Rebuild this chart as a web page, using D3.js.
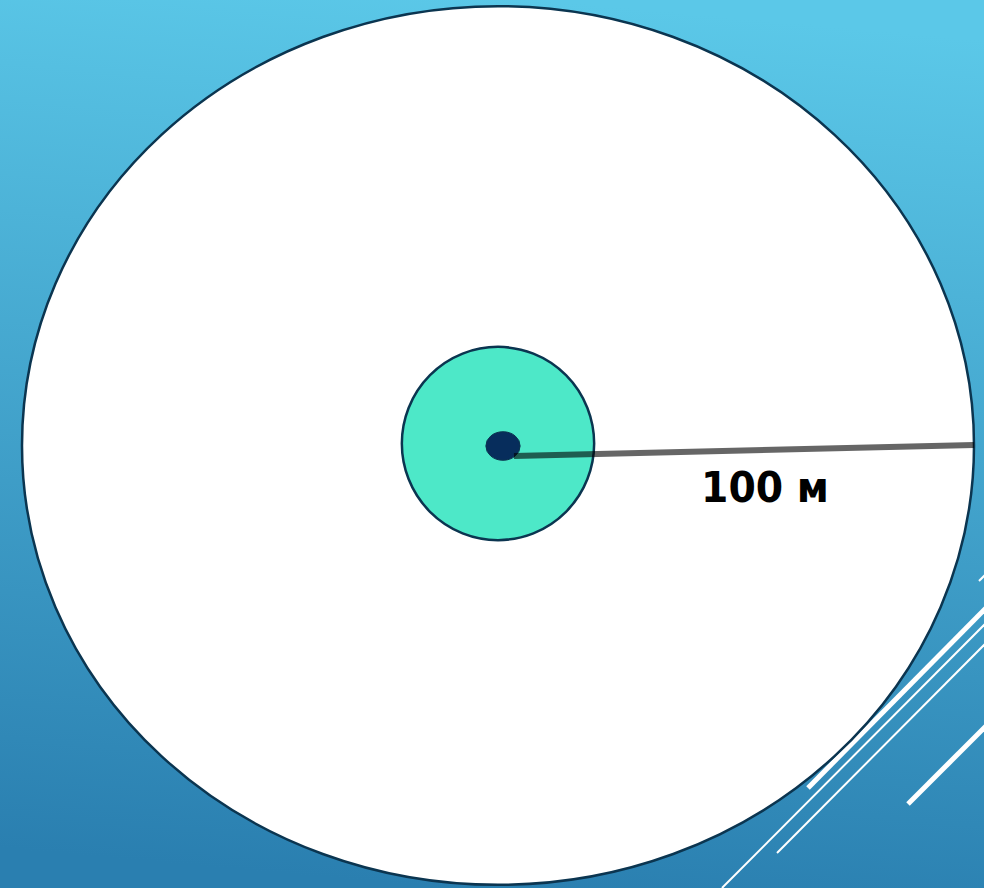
<!DOCTYPE html>
<html>
<head>
<meta charset="utf-8">
<script src="https://cdn.jsdelivr.net/npm/d3@7"></script>
<style>
  html, body { margin: 0; padding: 0; overflow: hidden; }
  svg { display: block; }
</style>
</head>
<body>
<script>
// ---- data ----
const zoneNames   = ["outer", "inner", "source"];
const zoneRadiusX = [100, 20.2, 3.6];   // metres (horizontal)
const zoneRadiusY = [92.3, 20.3, 3.0];  // metres (vertical, slide is squashed)
const zoneFills   = ["#ffffff", "#4de8c8", "#072d5c"];
const distanceValue = 100;
const distanceLabel = "100 м";

const W = 984, H = 888;
const svg = d3.select("body").append("svg").attr("width", W).attr("height", H);

// background gradient
const defs = svg.append("defs");
const grad = defs.append("linearGradient").attr("id", "bg")
  .attr("x1", "0.55").attr("y1", "0").attr("x2", "0.45").attr("y2", "1");
grad.append("stop").attr("offset", "0").attr("stop-color", "#5bc8e8");
grad.append("stop").attr("offset", "1").attr("stop-color", "#2a7fb0");
svg.append("rect").attr("width", W).attr("height", H).attr("fill", "url(#bg)");

// decorative lines (slide theme)
const deco = [
  {x1: 722, y1: 888, x2: 990, y2: 619, w: 2},
  {x1: 777, y1: 853, x2: 990, y2: 639, w: 2},
  {x1: 808, y1: 788, x2: 990, y2: 604, w: 5},
  {x1: 908, y1: 804, x2: 990, y2: 722, w: 5},
  {x1: 979, y1: 581, x2: 990, y2: 570, w: 2}
];
svg.selectAll("line.deco").data(deco).join("line").attr("class", "deco")
  .attr("x1", d => d.x1).attr("y1", d => d.y1)
  .attr("x2", d => d.x2).attr("y2", d => d.y2)
  .attr("stroke", "#ffffff").attr("stroke-width", d => d.w);

// scales: metres -> pixels
const cx = 498, cy = 445.5;
const rx = d3.scaleLinear().domain([0, 100]).range([0, 476]);
const ry = d3.scaleLinear().domain([0, 100]).range([0, 476]);

const zones = zoneNames.map((n, i) => ({name: n, rx: zoneRadiusX[i], ry: zoneRadiusY[i], fill: zoneFills[i]}));

// outer & inner zones
svg.selectAll("ellipse.zone").data(zones.slice(0, 2)).join("ellipse").attr("class", "zone")
  .attr("cx", (d, i) => i === 0 ? cx : 498)
  .attr("cy", (d, i) => i === 0 ? cy : 443.5)
  .attr("rx", d => rx(d.rx)).attr("ry", d => ry(d.ry))
  .attr("fill", d => d.fill)
  .attr("stroke", "#0b3550").attr("stroke-width", 2.5);

// source dot
const src = zones[2];
svg.append("ellipse")
  .attr("cx", 503).attr("cy", 446)
  .attr("rx", rx(src.rx)).attr("ry", ry(src.ry))
  .attr("fill", src.fill).attr("stroke", "#0b3550").attr("stroke-width", 1);

// distance line (semi-transparent)
svg.append("line")
  .attr("x1", 514).attr("y1", 456)
  .attr("x2", cx + rx(distanceValue)).attr("y2", 445)
  .attr("stroke", "rgba(0,0,0,0.6)").attr("stroke-width", 6);

svg.append("text")
  .attr("x", 765).attr("y", 502)
  .attr("text-anchor", "middle")
  .attr("font-family", "'DejaVu Sans', sans-serif")
  .attr("font-weight", "bold")
  .attr("font-size", 42)
  .attr("textLength", 128)
  .attr("lengthAdjust", "spacingAndGlyphs")
  .attr("fill", "#000")
  .text(distanceLabel);
</script>
</body>
</html>
